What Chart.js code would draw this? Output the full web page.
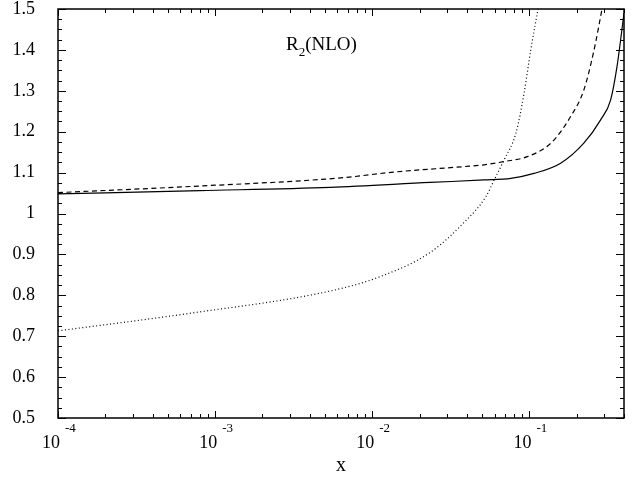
<!DOCTYPE html>
<html>
<head>
<meta charset="utf-8">
<script src="https://cdn.jsdelivr.net/npm/chart.js@4"></script>
<style>
  body { margin: 0; background: #fff; }
</style>
</head>
<body>
<canvas id="myChart" width="634" height="482"></canvas>
<script>
// solid curve
var solidX = [0.0001, 0.0008, 0.0054, 0.0234, 0.0514, 0.0762, 0.107, 0.158, 0.222, 0.284, 0.329, 0.361, 0.389, 0.4];
var solidY = [1.048, 1.056, 1.064, 1.076, 1.082, 1.086, 1.098, 1.123, 1.172, 1.229, 1.278, 1.359, 1.453, 1.49];
// dashed curve
var dashedX = [0.0001, 0.00069, 0.00627, 0.0143, 0.0379, 0.0515, 0.069, 0.097, 0.137, 0.183, 0.222, 0.258, 0.29];
var dashedY = [1.051, 1.066, 1.087, 1.102, 1.1145, 1.119, 1.127, 1.139, 1.172, 1.237, 1.302, 1.40, 1.50];
// dotted curve
var dottedX = [0.0001, 0.00069, 0.0054, 0.0112, 0.0234, 0.0379, 0.0528, 0.0597, 0.069, 0.082, 0.0925, 0.102, 0.1135];
var dottedY = [0.713, 0.756, 0.8105, 0.8455, 0.905, 0.976, 1.041, 1.082, 1.131, 1.196, 1.294, 1.40, 1.50];

var xDecades = [0.0001, 0.001, 0.01, 0.1];
var xExponents = ['-4', '-3', '-2', '-1'];

function pts(xs, ys) {
    return xs.map(function (x, i) { return { x: x, y: ys[i] }; });
}

var serif = 'Liberation Serif, Times New Roman, serif';

// frame, inward ticks, superscript x labels and the R2(NLO) text
var framePlugin = {
    id: 'frame',
    afterDraw: function (chart) {
        var ctx = chart.ctx, a = chart.chartArea;
        var xs = chart.scales.x, ys = chart.scales.y;
        ctx.save();
        ctx.strokeStyle = '#000';
        ctx.lineWidth = 1;
        function seg(x1, y1, x2, y2) {
            ctx.beginPath(); ctx.moveTo(x1, y1); ctx.lineTo(x2, y2); ctx.stroke();
        }
        // x ticks, top and bottom
        xDecades.forEach(function (d) {
            for (var m = 1; m <= 9; m++) {
                var v = m * d;
                if (v > xs.max) break;
                var px = Math.round(xs.getPixelForValue(v)) + 0.5;
                var len = m === 1 ? 7 : 4;
                seg(px, a.bottom, px, a.bottom - len);
                seg(px, a.top, px, a.top + len);
            }
        });
        // y ticks, left and right
        for (var k = 0; k <= 40; k++) {
            var v = 0.5 + k * 0.025;
            var py = Math.round(ys.getPixelForValue(v)) + 0.5;
            var len = k % 4 === 0 ? 8 : 4;
            seg(a.left, py, a.left + len, py);
            seg(a.right, py, a.right - len, py);
        }
        ctx.lineWidth = 1.5;
        ctx.strokeRect(a.left, a.top, a.right - a.left, a.bottom - a.top);

        // x tick labels: 10 with superscript exponent
        ctx.fillStyle = '#000';
        ctx.textBaseline = 'alphabetic';
        xDecades.forEach(function (d, i) {
            var px = xs.getPixelForValue(d);
            ctx.font = '18px ' + serif;
            ctx.textAlign = 'right';
            ctx.fillText('10', px + 2, 448);
            ctx.font = '13px ' + serif;
            ctx.textAlign = 'left';
            ctx.fillText(xExponents[i], px + 7, 432);
        });

        // label inside the plot
        ctx.textAlign = 'left';
        ctx.font = '19px ' + serif;
        ctx.fillText('R', 286, 50);
        var w = ctx.measureText('R').width;
        ctx.font = '13px ' + serif;
        ctx.fillText('2', 286 + w, 56);
        var w2 = ctx.measureText('2').width;
        ctx.font = '19px ' + serif;
        ctx.fillText('(NLO)', 286 + w + w2, 50);
        ctx.restore();
    }
};

var ctx = document.getElementById('myChart').getContext('2d');

var myChart = new Chart(ctx, {
    type: 'line',
    data: {
        datasets: [{
            data: pts(solidX, solidY),
            borderColor: '#000',
            borderWidth: 1.2
        }, {
            data: pts(dashedX, dashedY),
            borderColor: '#000',
            borderWidth: 1.2,
            borderDash: [5, 3.5]
        }, {
            data: pts(dottedX, dottedY),
            borderColor: '#000',
            borderWidth: 1.2,
            borderDash: [1, 2.5]
        }]
    },
    options: {
        responsive: false,
        animation: false,
        cubicInterpolationMode: 'monotone',
        pointRadius: 0,
        layout: { padding: { top: 0, right: 10, left: 0, bottom: 0 } },
        plugins: {
            legend: { display: false },
            tooltip: { enabled: false }
        },
        scales: {
            x: {
                type: 'logarithmic',
                min: 0.0001,
                max: 0.4,
                grid: { display: false },
                border: { display: false },
                ticks: { display: false },
                title: {
                    display: true,
                    text: 'x',
                    color: '#000',
                    font: { family: serif, size: 20 },
                    padding: { top: 0, bottom: 4 }
                },
                afterFit: function (scale) { scale.height = 64; }
            },
            y: {
                min: 0.5,
                max: 1.5,
                grid: { display: false, drawTicks: true, tickLength: 23 },
                border: { display: false },
                ticks: {
                    stepSize: 0.1,
                    padding: 0,
                    color: '#000',
                    font: { family: serif, size: 18, lineHeight: 1 },
                    callback: function (v) { return String(Math.round(v * 10) / 10); }
                },
                afterFit: function (scale) { scale.width = 58; }
            }
        }
    },
    plugins: [framePlugin]
});
</script>
</body>
</html>
